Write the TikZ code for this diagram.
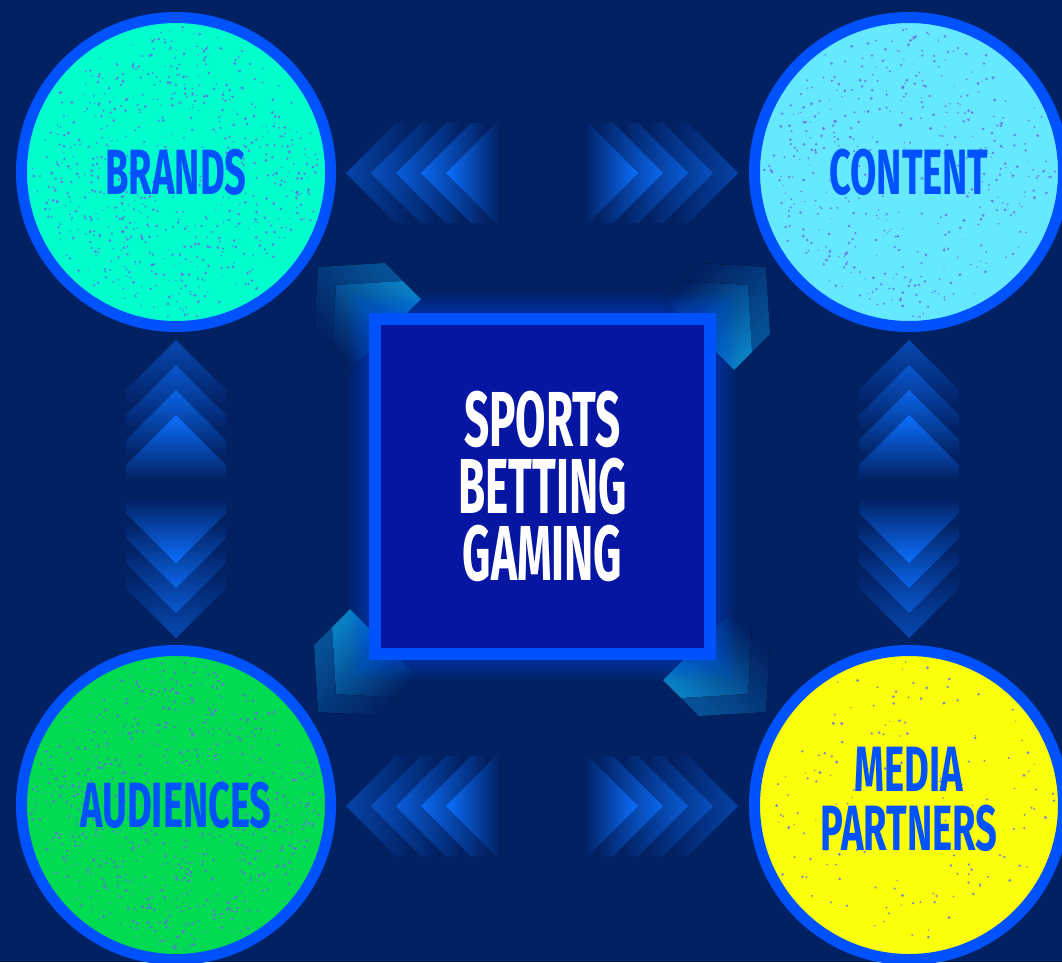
\documentclass[tikz,border=0pt]{standalone}
\usepackage{fontspec}
\newfontfamily\headfont[FakeStretch=0.595]{Fira Sans}
\newfontfamily\corefont[FakeStretch=0.565]{Fira Sans}
\usepackage{tikz}
\pgfdeclarehorizontalshading[chevtip,chevmid,navybg]{chevfade}{100bp}{color(0bp)=(chevtip); color(25bp)=(chevtip);
    color(44bp)=(chevmid); color(68bp)=(navybg); color(100bp)=(navybg)}

\begin{document}
\begin{tikzpicture}[x=1pt, y=-1pt]
\definecolor{navybg}{RGB}{2, 33, 99}
\definecolor{rimblue}{RGB}{0, 82, 255}
\definecolor{boxblue}{RGB}{6, 22, 163}
\definecolor{chevblue}{RGB}{12, 112, 255}
\definecolor{chevteal}{RGB}{10, 130, 200}
\definecolor{brandfill}{RGB}{0, 255, 204}
\definecolor{contentfill}{RGB}{102, 232, 255}
\definecolor{audfill}{RGB}{0, 219, 82}
\definecolor{mediafill}{RGB}{250, 255, 10}
\definecolor{speck}{RGB}{104, 112, 228}
\tikzset{hub circle/.style={circle, draw=rimblue, line width=11pt, minimum size=309pt, inner sep=0pt},
         hub label/.style={text=rimblue, align=center, font=\headfont\bfseries\fontsize{64}{59}\selectfont},
         chevron/.style={shading=chevfade, shading angle=#1},
         speck dot/.style={fill=speck, fill opacity=0.85}}
% background
\fill[navybg] (0,0) rectangle (1062,962);
\useasboundingbox (0,0) rectangle (1062,962);
% Top and bottom arrows: chevrons pointing out to the circles
\foreach \yc in {173, 806} {
    \foreach \i/\c/\L in {0/45/75, 1/60/75, 2/76/75, 3/90/75, 4/100/62} {
        \pgfmathsetmacro{\m}{0.55*\c}
        \pgfmathsetmacro{\e}{\L-50}
        \colorlet{chevtip}{chevblue!\c!navybg}
        \colorlet{chevmid}{chevblue!\m!navybg}
        \pgfmathsetmacro{\tx}{346+25*\i}
        \shade[chevron=0]
            (\tx,\yc) -- ++(50,-50) -- ++(\e,0) -- ++(0,100) -- ++(-\e,0) -- cycle;
        \pgfmathsetmacro{\tx}{738-25*\i}
        \shade[chevron=180]
            (\tx,\yc) -- ++(-50,-50) -- ++(-\e,0) -- ++(0,100) -- ++(\e,0) -- cycle;
    }
}
% Left and right arrows: chevrons pointing up and down
\foreach \xc in {176, 909} {
    \foreach \i/\c in {0/52, 1/70, 2/86, 3/100} {
        \pgfmathsetmacro{\m}{0.55*\c}
        \colorlet{chevtip}{chevblue!\c!navybg}
        \colorlet{chevmid}{chevblue!\m!navybg}
        \pgfmathsetmacro{\ty}{340+25*\i}
        \shade[chevron=-90]
            (\xc,\ty) -- ++(-50,50) -- ++(0,25) -- ++(100,0) -- ++(0,-25) -- cycle;
        \pgfmathsetmacro{\ty}{638-25*\i}
        \shade[chevron=90]
            (\xc,\ty) -- ++(-50,-50) -- ++(0,-25) -- ++(100,0) -- ++(0,25) -- cycle;
    }
}
% Corner chevrons round the square
\foreach \d/\c in {0/50, 18/95} {
    \fill[left color=chevteal!\c!navybg, right color=navybg, shading angle=-45]
        (318+\d,267+\d) -- ++(67,-4) -- ++(18,18) -- ++(-71,71) -- ++(-18,-18) -- cycle;
    \fill[right color=chevteal!\c!navybg, left color=navybg, shading angle=45]
        (766-\d,267+\d) -- ++(-67,-4) -- ++(-18,18) -- ++(71,71) -- ++(18,-18) -- cycle;
    \fill[left color=chevteal!\c!navybg, right color=navybg, shading angle=45]
        (318+\d,712-\d) -- ++(67,4) -- ++(18,-18) -- ++(-71,-71) -- ++(-18,18) -- cycle;
    \fill[right color=chevteal!\c!navybg, left color=navybg, shading angle=-45]
        (766-\d,712-\d) -- ++(-67,4) -- ++(-18,-18) -- ++(71,-71) -- ++(18,18) -- cycle;
}
% glow and centre square
\foreach \g in {1,...,10} {
    \fill[rimblue, fill opacity=0.045] (369-2*\g,313-2*\g) rectangle (716+2*\g,660+2*\g);
}
\node[draw=rimblue, line width=12pt, fill=boxblue, minimum size=335pt, inner sep=0pt,
      text=white, align=center, font=\corefont\bfseries\fontsize{78}{67}\selectfont]
      (core) at (542.5,486.5) {SPORTS\\BETTING\\GAMING};
% the four circles
\node[hub circle, fill=brandfill] (brands) at (176,172) {};
\node[hub circle, fill=contentfill] (content) at (909,172) {};
\node[hub circle, fill=audfill] (audiences) at (176,805) {};
\node[hub circle, fill=mediafill] (media) at (909,805) {};
% grainy speckles
\pgfmathsetseed{7}
\foreach \hub/\n in {brands/700, content/450, audiences/820, media/150} {
    \foreach \k in {1,...,\n} {
        \fill[speck dot, shift={(\hub.center)}] ({rnd*360}:{146*sqrt(rnd)}) circle ({0.6+1.0*rnd});
    }
}
\node[hub label] at (brands) {BRANDS};
\node[hub label] at (content) {CONTENT};
\node[hub label] at (audiences) {AUDIENCES};
\node[hub label] at ([yshift=6]media.center) {MEDIA\\PARTNERS};
\end{tikzpicture}
\end{document}
